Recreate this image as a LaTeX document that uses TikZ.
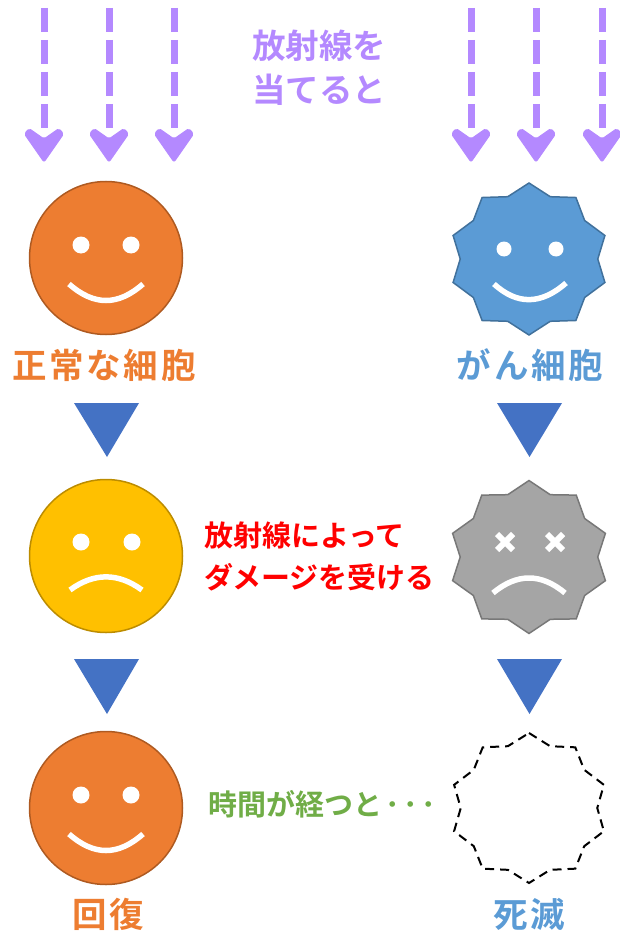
\documentclass[tikz,border=0pt]{standalone}
\usepackage{fontspec}
\newfontfamily\jp{Noto Sans CJK JP}[BoldFont={* Bold}]
\newfontfamily\jpwide{Noto Sans CJK JP}[BoldFont={* Bold},LetterSpace=8]
\definecolor{orangeF}{HTML}{ED7D31}
\definecolor{orangeD}{HTML}{AE5A21}
\definecolor{yellowF}{HTML}{FFC000}
\definecolor{yellowD}{HTML}{BC8C00}
\definecolor{blueF}{HTML}{5B9BD5}
\definecolor{blueD}{HTML}{41719C}
\definecolor{grayF}{HTML}{A5A5A5}
\definecolor{grayD}{HTML}{787878}
\definecolor{triblue}{HTML}{4472C4}
\definecolor{ray}{RGB}{180,137,255}
\definecolor{txtgreen}{HTML}{70AD47}
\begin{document}
\begin{tikzpicture}[x=1pt,y=-1pt,
  face/.style={draw=white,line width=5.5pt,line cap=butt},
  eye/.style={fill=white},
  raydash/.style={draw=ray,line width=7pt,dash pattern=on 24pt off 8pt},
  rayhead/.style={fill=ray,draw=ray,line width=1pt,rounded corners=2pt},
  stepmark/.style={fill=triblue},
  label/.style={inner sep=0pt,anchor=base,font=\jpwide\bfseries\fontsize{34.5}{34.5}\selectfont},
  note/.style={inner sep=0pt,anchor=base west},
]
\useasboundingbox (0,0) rectangle (619,933);

% incoming radiation: dashed shafts with heads
\foreach \x in {44,109,174,471,536,602}{
  \coordinate (r\x) at (\x,8);
  \coordinate (h\x) at (\x,128.3);
  \draw[raydash] (r\x) -- (h\x);
  \fill[rayhead] (\x,162) -- (\x-19.5,134) -- (\x-15,128.5) -- (\x,139) -- (\x+15,128.5) -- (\x+19.5,134) -- cycle;
}
\node[inner sep=0pt,anchor=base,text=ray,font=\jp\bfseries\fontsize{33.5}{33.5}\selectfont] (t1) at (319,59) {放射線を};
\node[inner sep=0pt,anchor=base,text=ray,font=\jp\bfseries\fontsize{33.5}{33.5}\selectfont] (t2) at (319,103) {当てると};

% normal cell, smiling
\begin{scope}[shift={(106,258)}]
  \draw[fill=orangeF,draw=orangeD,line width=1.5pt] (0,0) circle (76.5);
  \fill[eye] (-25,-13) circle (8.5) (25,-13) circle (8.5);
  \draw[face] (-37,26) .. controls (-12,48) and (12,48) .. (37,26);
\end{scope}
\node[label,text=orangeF] (normal) at (104,378) {正常な細胞};

% cancer cell, smiling
\begin{scope}[shift={(529,259)}]
  \draw[fill=blueF,draw=blueD,line width=1.5pt,line join=miter]
    plot[variable=\k,samples at={0,...,19}]
      ({1.05*(isodd(\k)?65.5:76)*sin(18*\k)},{-(isodd(\k)?65.5:76)*cos(18*\k)}) -- cycle;
  \fill[eye] (-25,-10) circle (7.5) (27,-10) circle (7.5);
  \draw[face] (-35,25) .. controls (-12,46) and (12,46) .. (37,24);
\end{scope}
\node[label,text=blueF] (cancer) at (530,378) {がん細胞};

% step markers
\fill[stepmark] (74,403) -- (139,403) -- (107,457) -- cycle;
\fill[stepmark] (497,403) -- (562,403) -- (529.5,457) -- cycle;
\fill[stepmark] (74,659) -- (139,659) -- (107,714) -- cycle;
\fill[stepmark] (497,659) -- (562,659) -- (529.5,714) -- cycle;

% damaged normal cell
\begin{scope}[shift={(106,556)}]
  \draw[fill=yellowF,draw=yellowD,line width=1.5pt] (0,0) circle (76.5);
  \fill[eye] (-25,-14) circle (8.5) (26,-14) circle (8.5);
  \draw[face] (-36,34) .. controls (-12,16.5) and (12,16.5) .. (36,34);
\end{scope}

% damaged cancer cell
\begin{scope}[shift={(529,557)}]
  \draw[fill=grayF,draw=grayD,line width=1.5pt,line join=miter]
    plot[variable=\k,samples at={0,...,19}]
      ({1.05*(isodd(\k)?65.5:76.5)*sin(18*\k)},{-(isodd(\k)?65.5:76.5)*cos(18*\k)}) -- cycle;
  \foreach \ex in {-24,26}{
    \draw[white,line width=6pt] (\ex-8,-23) -- (\ex+8,-7) (\ex-8,-7) -- (\ex+8,-23);
  }
  \draw[face] (-36,36) .. controls (-12,16) and (12,16) .. (36,36);
\end{scope}
\node[note,text=red,font=\jp\bfseries\fontsize{29}{29}\selectfont] (dmg1) at (204,546) {放射線によって};
\node[note,text=red,font=\jp\bfseries\fontsize{29}{29}\selectfont] (dmg2) at (204,588) {ダメージを受ける};

% recovered normal cell
\begin{scope}[shift={(106,808)}]
  \draw[fill=orangeF,draw=orangeD,line width=1.5pt] (0,0) circle (76.5);
  \fill[eye] (-25,-13) circle (8.5) (25,-13) circle (8.5);
  \draw[face] (-37,26) .. controls (-12,48) and (12,48) .. (37,26);
\end{scope}
\node[label,text=orangeF] (recover) at (108,927) {回復};

% vanished cancer cell
\begin{scope}[shift={(529,808)}]
  \draw[black,line width=2pt,dash pattern=on 9pt off 6pt,line join=miter]
    plot[variable=\k,samples at={0,...,19}]
      ({1.05*(isodd(\k)?65:75)*sin(18*\k)},{-(isodd(\k)?65:75)*cos(18*\k)}) -- cycle;
\end{scope}
\node[label,text=blueF] (death) at (529,927) {死滅};
\node[note,text=txtgreen,font=\jp\bfseries\fontsize{29}{29}\selectfont] (time) at (208,815.5) {時間が経つと\kern3pt･\kern3.5pt･\kern3.5pt･};
\end{tikzpicture}
\end{document}
